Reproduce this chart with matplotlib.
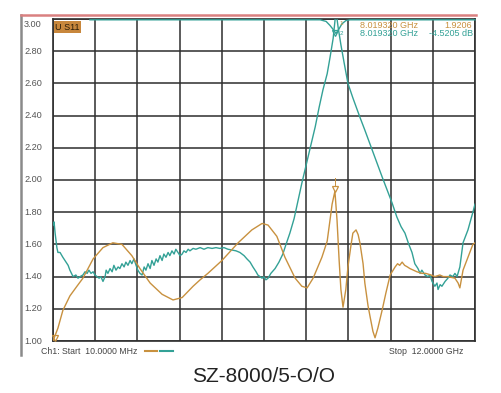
import matplotlib
matplotlib.use("Agg")
import matplotlib.pyplot as plt
from matplotlib.lines import Line2D

plt.rcParams['font.family'] = ['Liberation Sans', 'DejaVu Sans']

# ---- data (frequency in GHz, trace value on the 1.00 .. 3.00 scale) ----
orange_f = [0.01, 0.15, 0.29, 0.49, 0.69, 0.86, 1.15, 1.43, 1.71, 1.97, 2.25, 2.48,
            2.77, 3.11, 3.42, 3.68, 3.99, 4.19, 4.41, 4.81, 5.27, 5.66, 5.95, 6.12,
            6.37, 6.60, 6.89, 7.08, 7.23, 7.40, 7.65, 7.80, 7.88, 7.94, 8.02, 8.08,
            8.14, 8.19, 8.25, 8.33, 8.39, 8.48, 8.53, 8.62, 8.68, 8.73, 8.82, 8.87,
            8.96, 9.02, 9.10, 9.16, 9.24, 9.36, 9.47, 9.59, 9.73, 9.80, 9.86, 9.93,
            10.00, 10.08, 10.15, 10.25, 10.35, 10.49, 10.60, 10.75, 10.86, 11.00,
            11.10, 11.23, 11.43, 11.52, 11.57, 11.66, 11.80, 11.94, 12.00]
orange_v = [1.00, 1.08, 1.19, 1.28, 1.34, 1.39, 1.51, 1.58, 1.61, 1.60, 1.53, 1.45,
            1.36, 1.29, 1.255, 1.27, 1.34, 1.38, 1.42, 1.50, 1.61, 1.69, 1.73, 1.72,
            1.65, 1.52, 1.39, 1.34, 1.33, 1.39, 1.52, 1.62, 1.75, 1.85, 1.93, 1.75,
            1.50, 1.32, 1.21, 1.32, 1.46, 1.60, 1.67, 1.69, 1.66, 1.61, 1.48, 1.36,
            1.22, 1.15, 1.06, 1.02, 1.08, 1.19, 1.30, 1.41, 1.46, 1.48, 1.47, 1.49,
            1.47, 1.46, 1.45, 1.44, 1.43, 1.42, 1.42, 1.41, 1.40, 1.41,
            1.40, 1.40, 1.39, 1.36, 1.33, 1.44, 1.52, 1.60, 1.61]

teal_f = [0.01, 0.04, 0.07, 0.12, 0.15, 0.21, 0.29, 0.35, 0.44, 0.49, 0.58, 0.66,
          0.72, 0.78, 0.86, 0.92, 0.98, 1.03, 1.09, 1.15, 1.20, 1.26, 1.32, 1.37,
          1.43, 1.49, 1.52, 1.57, 1.63, 1.69, 1.74, 1.80, 1.86, 1.91, 1.97, 2.03,
          2.08, 2.14, 2.20, 2.25, 2.31, 2.37, 2.42, 2.48, 2.54, 2.60, 2.65, 2.71,
          2.77, 2.82, 2.88, 2.94, 2.99, 3.05, 3.11, 3.16, 3.22, 3.28, 3.33, 3.39,
          3.45, 3.50, 3.56, 3.62, 3.68, 3.73, 3.79, 3.85, 3.90, 3.99, 4.07, 4.19,
          4.30, 4.41, 4.53, 4.64, 4.75, 4.87, 4.98, 5.10, 5.21, 5.32, 5.44, 5.52,
          5.61, 5.69, 5.78, 5.83, 5.89, 5.95, 6.00, 6.06, 6.12, 6.20, 6.32, 6.43,
          6.54, 6.63, 6.74, 6.86, 6.97, 7.08, 7.23, 7.34, 7.46, 7.57, 7.68, 7.80,
          7.88, 7.97, 8.05, 8.11, 8.19, 8.28, 8.39, 8.53, 8.73, 8.87, 9.19, 9.36,
          9.50, 9.64, 9.78, 9.90, 10.01, 10.12, 10.21, 10.29, 10.38, 10.44, 10.49,
          10.58, 10.66, 10.72, 10.78, 10.86, 10.92, 10.95, 11.01, 11.06, 11.15,
          11.23, 11.29, 11.37, 11.43, 11.49, 11.57, 11.66, 11.80, 11.94, 12.00]
teal_v = [1.72, 1.74, 1.67, 1.58, 1.55, 1.55, 1.52, 1.50, 1.47, 1.44, 1.40, 1.41,
          1.39, 1.40, 1.41, 1.43, 1.42, 1.44, 1.42, 1.43, 1.41, 1.40, 1.39, 1.40,
          1.37, 1.40, 1.44, 1.42, 1.45, 1.43, 1.47, 1.44, 1.46, 1.45, 1.48, 1.46,
          1.49, 1.47, 1.50, 1.48, 1.51, 1.47, 1.44, 1.42, 1.41, 1.46, 1.44, 1.48,
          1.45, 1.50, 1.47, 1.51, 1.49, 1.53, 1.50, 1.54, 1.52, 1.55, 1.53, 1.56,
          1.54, 1.57, 1.55, 1.53, 1.54, 1.56, 1.55, 1.57, 1.56, 1.575, 1.57, 1.58,
          1.57, 1.58, 1.575, 1.58, 1.575, 1.58, 1.57, 1.565, 1.56, 1.55, 1.53, 1.51,
          1.49, 1.46, 1.43, 1.41, 1.40, 1.39, 1.40, 1.38, 1.39, 1.42, 1.45, 1.49,
          1.54, 1.60, 1.67, 1.76, 1.87, 1.98, 2.12, 2.22, 2.33, 2.45, 2.56, 2.66,
          2.76, 2.88, 3.05, 2.95, 2.84, 2.73, 2.60, 2.51, 2.39, 2.31, 2.12, 2.02,
          1.94, 1.86, 1.77, 1.71, 1.67, 1.60, 1.55, 1.48, 1.45, 1.42, 1.44,
          1.41, 1.40, 1.41, 1.37, 1.34, 1.36, 1.32, 1.35, 1.34, 1.37,
          1.39, 1.41, 1.40, 1.42, 1.40, 1.46, 1.61, 1.69, 1.80, 1.85]

top_f = [1.06, 7.60, 7.77, 7.88, 7.97, 8.05, 8.14, 8.22, 8.33, 8.45, 12.00]
top_v = [2.995, 2.995, 2.985, 2.96, 2.935, 2.91, 2.94, 2.97, 2.99, 2.995, 2.995]

x_ticks = [0.01 + i * 1.199 for i in range(11)]
y_ticks = [1.0, 1.2, 1.4, 1.6, 1.8, 2.0, 2.2, 2.4, 2.6, 2.8, 3.0]
y_labels = ["1.00", "1.20", "1.40", "1.60", "1.80", "2.00", "2.20", "2.40", "2.60", "2.80", "3.00"]

marker_f = 8.0193
marker1_v = 1.9206
marker2_v = 2.91

ORANGE = '#c8913f'
TEAL = '#33a196'
GRID = '#2e2e2e'
W, H = 502, 393

fig = plt.figure(figsize=(W / 100, H / 100), dpi=100)
fig.patch.set_facecolor('white')

ax = fig.add_axes([53 / W, 1 - 341 / H, 422 / W, 322 / H])
ax.set_xlim(0.01, 12.0)
ax.set_ylim(1.0, 3.0)
ax.set_xticks(x_ticks)
ax.set_yticks(y_ticks)
ax.tick_params(length=0, labelleft=False, labelbottom=False)
ax.grid(True, color=GRID, lw=1.1)
for s in ax.spines.values():
    s.set_color(GRID)
    s.set_linewidth(1.2)

ax.plot(teal_f, teal_v, color=TEAL, lw=1.0, zorder=3)
ax.plot(top_f, top_v, color=TEAL, lw=1.0, zorder=3, clip_on=False)
ax.plot(orange_f, orange_v, color=ORANGE, lw=1.0, zorder=4)

# markers
ax.plot([marker_f], [1.945], marker='v', ms=5, mfc='none', mec=ORANGE, mew=0.9, zorder=5)
ax.plot([marker_f, marker_f], [1.97, 2.01], color=ORANGE, lw=0.7, zorder=5)
ax.plot([marker_f], [marker2_v], marker='v', ms=4, mfc='none', mec=TEAL, mew=0.9, zorder=5)
ax.plot([0.06], [1.02], marker='v', ms=4, mfc='none', mec=ORANGE, mew=0.9, zorder=5, clip_on=False)
ax.text(8.15, 2.975, "1", fontsize=4.5, color=ORANGE, va='center', ha='left')
ax.text(8.15, 2.91, "2", fontsize=4.5, color=TEAL, va='center', ha='left')

# y labels inside the panel
for v, lbl in zip(y_ticks, y_labels):
    yy = v - 0.035 if v == 3.0 else v
    ax.text(-29 / 422, yy, lbl, transform=ax.get_yaxis_transform(), fontsize=6.6,
            color='#555555', ha='left', va='center')

# trace label box
ax.text(55 / W, 1 - 27 / H, "U S11", transform=fig.transFigure, fontsize=6.5,
        color='#2a1c08', ha='left', va='center',
        bbox=dict(boxstyle='square,pad=0.15', fc='#c8873c', ec='none'))

# marker readouts
fig.text(360 / W, 1 - 25 / H, "8.019320 GHz", fontsize=6.5, color=ORANGE, ha='left', va='center')
fig.text(472 / W, 1 - 25 / H, "1.9206", fontsize=6.5, color=ORANGE, ha='right', va='center')
fig.text(360 / W, 1 - 34 / H, "8.019320 GHz", fontsize=6.5, color=TEAL, ha='left', va='center')
fig.text(473 / W, 1 - 34 / H, "-4.5205 dB", fontsize=6.5, color=TEAL, ha='right', va='center')

# panel frame
fig.add_artist(Line2D([21 / W, 21 / W], [1 - 15 / H, 1 - 355 / H], color='#8a8a8a', lw=1.8,
                      transform=fig.transFigure))
fig.add_artist(Line2D([21 / W, 476 / W], [1 - 15 / H, 1 - 15 / H], color='#d98080', lw=1.8,
                      transform=fig.transFigure))

# footer
fig.text(41 / W, 1 - 351 / H, "Ch1: Start  10.0000 MHz", fontsize=6.3, color='#444444',
         ha='left', va='center')
fig.add_artist(Line2D([145 / W, 157 / W], [1 - 351 / H] * 2, color=ORANGE, lw=1.5,
                      transform=fig.transFigure))
fig.add_artist(Line2D([160 / W, 173 / W], [1 - 351 / H] * 2, color=TEAL, lw=1.5,
                      transform=fig.transFigure))
fig.text(463 / W, 1 - 351 / H, "Stop  12.0000 GHz", fontsize=6.3, color='#444444',
         ha='right', va='center')

fig.text(264 / W, 1 - 376 / H, "SZ-8000/5-O/O", fontsize=15, color='#222222',
         ha='center', va='center')

fig.savefig("out.png", dpi=100)
